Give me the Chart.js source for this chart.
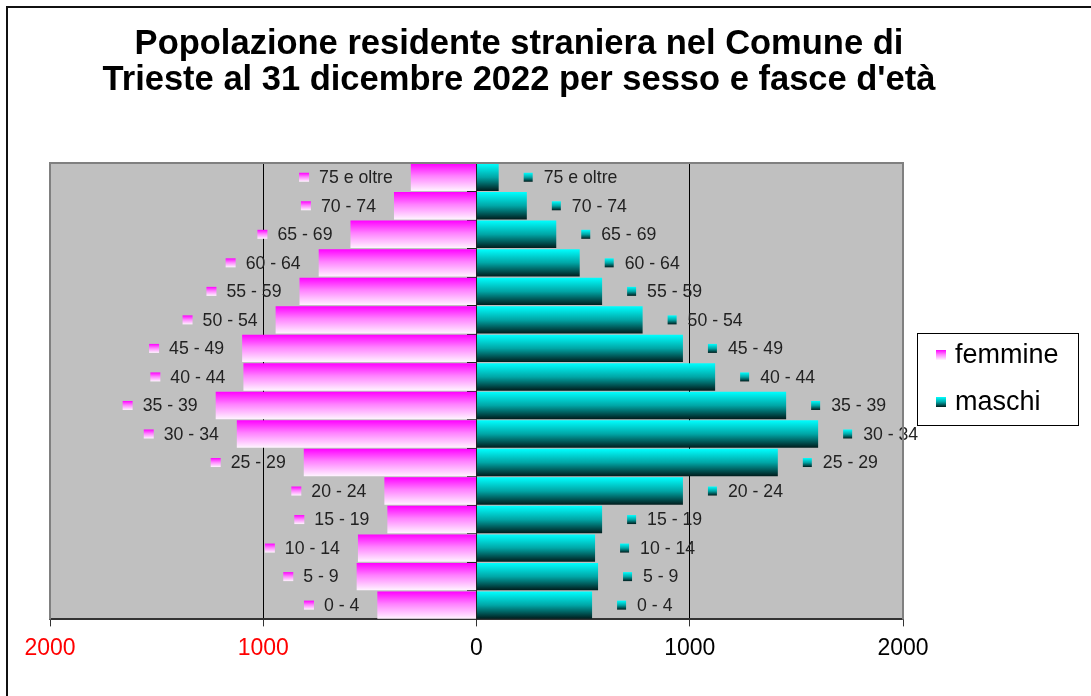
<!DOCTYPE html>
<html><head><meta charset="utf-8">
<script src="https://cdn.jsdelivr.net/npm/chart.js@4/dist/chart.umd.min.js"></script>
<style>html,body{margin:0;padding:0;background:#fff;overflow:hidden}#wrap{width:1091px;height:696px;position:relative}</style>
</head><body><div id="wrap"><canvas id="c" width="1091" height="696"></canvas></div>
<script>
const titleLines = ["Popolazione residente straniera nel Comune di", "Trieste al 31 dicembre 2022 per sesso e fasce d'età"];
const ageGroups = ["0 - 4","5 - 9","10 - 14","15 - 19","20 - 24","25 - 29","30 - 34","35 - 39","40 - 44","45 - 49","50 - 54","55 - 59","60 - 64","65 - 69","70 - 74","75 e oltre"];
const femmine = [465,562,556,418,432,810,1124,1223,1093,1099,942,830,740,591,387,308];
const maschi  = [542,570,556,589,968,1413,1602,1452,1119,968,779,589,484,374,236,104];
const seriesNames = ["femmine","maschi"];
const xTickValues = [-2000,-1000,0,1000,2000];

const FONT = "'Liberation Sans', Arial, sans-serif";

function femGrad(ctx, y0, y1){
  const g = ctx.createLinearGradient(0, y0, 0, y1);
  g.addColorStop(0, '#ff00ff');
  g.addColorStop(0.45, '#ff80ff');
  g.addColorStop(1, '#fff4ff');
  return g;
}
function masGrad(ctx, y0, y1){
  const g = ctx.createLinearGradient(0, y0, 0, y1);
  g.addColorStop(0, '#00ffff');
  g.addColorStop(0.5, '#00a6a6');
  g.addColorStop(1, '#001c1c');
  return g;
}
function barFill(kind){
  return function(context){
    const chart = context.chart;
    const ys = chart.scales && chart.scales.y;
    if (!ys || context.dataIndex === undefined || !ys.ticks || !ys.ticks.length) return kind === 'f' ? '#ff00ff' : '#00ffff';
    const c = ys.getPixelForValue(context.dataIndex);
    const half = ys.height / ageGroups.length / 2 * 0.96;
    return kind === 'f' ? femGrad(chart.ctx, c - half, c + half) : masGrad(chart.ctx, c - half, c + half);
  };
}

const framePlugin = {
  id: 'frame',
  beforeDraw(chart){
    const {ctx, chartArea: a} = chart;
    ctx.save();
    ctx.fillStyle = '#fff';
    ctx.fillRect(0, 0, chart.width, chart.height);
    ctx.fillStyle = '#c0c0c0';
    ctx.fillRect(a.left, a.top, a.right - a.left, a.bottom - a.top);
    ctx.strokeStyle = '#111';
    ctx.lineWidth = 2;
    ctx.beginPath();
    ctx.moveTo(7, chart.height + 2);
    ctx.lineTo(7, 7);
    ctx.lineTo(chart.width + 2, 7);
    ctx.stroke();
    ctx.fillStyle = '#000';
    ctx.font = "bold 34.5px " + FONT;
    ctx.textAlign = 'center';
    ctx.textBaseline = 'alphabetic';
    ctx.fillText(titleLines[0], 519, 54);
    ctx.fillText(titleLines[1], 519, 90);
    ctx.restore();
  },
  afterDraw(chart){
    const {ctx, chartArea: a} = chart;
    ctx.save();
    ctx.strokeStyle = '#808080';
    ctx.lineWidth = 2;
    ctx.beginPath();
    ctx.moveTo(a.left, a.bottom);
    ctx.lineTo(a.left, a.top);
    ctx.lineTo(a.right, a.top);
    ctx.lineTo(a.right, a.bottom);
    ctx.stroke();
    const lx = 917, ly = 333, lw = 161, lh = 92;
    ctx.fillStyle = '#fff';
    ctx.fillRect(lx, ly, lw, lh);
    ctx.strokeStyle = '#000';
    ctx.lineWidth = 1;
    ctx.strokeRect(lx + 0.5, ly + 0.5, lw, lh);
    const items = [[seriesNames[0], 'f', 355], [seriesNames[1], 'm', 402]];
    ctx.font = "27px " + FONT;
    ctx.textAlign = 'left';
    ctx.textBaseline = 'middle';
    items.forEach(([name, k, yy]) => {
      ctx.fillStyle = k === 'f' ? femGrad(ctx, yy - 5, yy + 5) : masGrad(ctx, yy - 5, yy + 5);
      ctx.fillRect(936, yy - 5, 10, 10);
      ctx.fillStyle = '#000';
      ctx.fillText(name, 955, yy + 1);
    });
    ctx.restore();
  },
  afterDatasetsDraw(chart){
    const {ctx} = chart;
    const xs = chart.scales.x, ys = chart.scales.y;
    ctx.save();
    ctx.font = "17.7px " + FONT;
    ctx.textBaseline = 'middle';
    ageGroups.forEach((lab, i) => {
      const yc = ys.getPixelForValue(i);
      const fx = xs.getPixelForValue(-femmine[i]);
      const tw = ctx.measureText(lab).width;
      const tRight = fx - 18;
      const mR = tRight - tw - 10;
      ctx.fillStyle = femGrad(ctx, yc - 4.5, yc + 4.5);
      ctx.fillRect(mR - 10, yc - 4.5, 10, 9);
      ctx.fillStyle = '#222';
      ctx.textAlign = 'right';
      ctx.fillText(lab, tRight, yc + 1);
      const mx = xs.getPixelForValue(maschi[i]);
      const mL = mx + 25;
      ctx.fillStyle = masGrad(ctx, yc - 4.5, yc + 4.5);
      ctx.fillRect(mL, yc - 4.5, 9, 9);
      ctx.fillStyle = '#222';
      ctx.textAlign = 'left';
      ctx.fillText(lab, mL + 20, yc + 1);
    });
    ctx.restore();
  }
};

new Chart(document.getElementById('c'), {
  type: 'bar',
  data: {
    labels: ageGroups,
    datasets: [
      {label: seriesNames[0], data: femmine.map(v => -v), backgroundColor: barFill('f'), borderWidth: 0, barPercentage: 0.96, categoryPercentage: 1, grouped: false},
      {label: seriesNames[1], data: maschi, backgroundColor: barFill('m'), borderWidth: 0, barPercentage: 0.96, categoryPercentage: 1, grouped: false}
    ]
  },
  options: {
    indexAxis: 'y',
    responsive: false,
    animation: false,
    devicePixelRatio: 1,
    layout: {padding: {left: 50, right: 188, top: 163, bottom: 26}},
    scales: {
      x: {
        type: 'linear', min: -2000, max: 2000,
        afterBuildTicks: s => { s.ticks = xTickValues.map(v => ({value: v})); },
        grid: {
          color: c => (c.tick && Math.abs(c.tick.value) === 2000) ? 'rgba(0,0,0,0)' : '#000',
          lineWidth: 1, drawTicks: true, tickLength: 7, tickColor: '#333'
        },
        border: {display: true, color: '#333', width: 2},
        ticks: {
          callback: v => String(Math.abs(v)),
          color: c => (c.tick && c.tick.value < 0) ? '#ff0000' : '#000',
          font: {family: FONT, size: 23}, padding: 8, maxRotation: 0, autoSkip: false
        }
      },
      y: {
        type: 'category', reverse: true, position: {x: 0},
        grid: {drawOnChartArea: false, drawTicks: true, tickLength: 9, tickColor: '#222', offset: true},
        border: {display: true, color: '#222', width: 1},
        ticks: {display: false}
      }
    },
    plugins: {legend: {display: false}, tooltip: {enabled: false}, title: {display: false}}
  },
  plugins: [framePlugin]
});
</script>
</body></html>
